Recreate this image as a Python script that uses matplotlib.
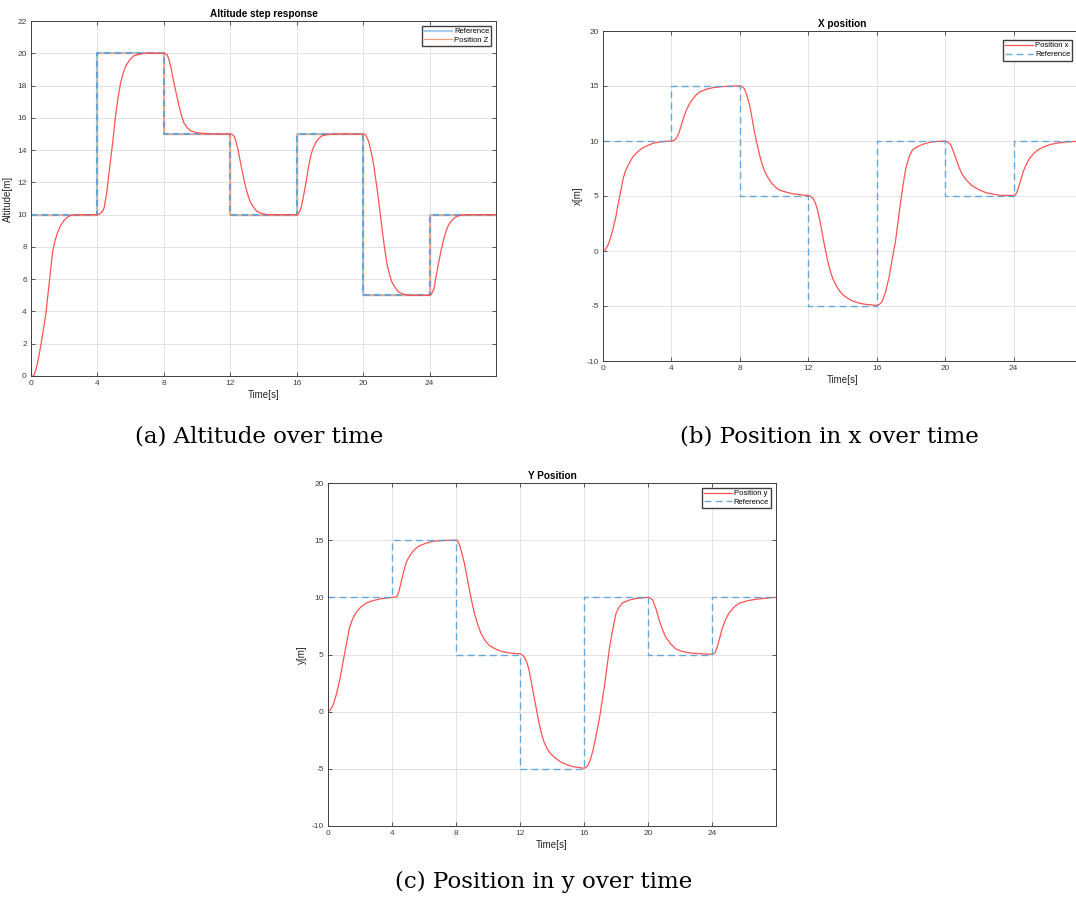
import numpy as np
import matplotlib.pyplot as plt

# reference set-points (step changes every 4 s)
ref_t = [0, 4, 8, 12, 16, 20, 24, 28]
z_ref = [10, 20, 15, 10, 15, 5, 10, 10]
x_ref = [10, 15, 5, -5, 10, 5, 10, 10]
y_ref = [10, 15, 5, -5, 10, 5, 10, 10]

# altitude response
z_t = [0, 0.16, 0.3, 0.45, 0.6, 0.75, 0.9, 1.1, 1.3, 1.45, 1.6, 1.8, 2.0, 2.2, 2.4, 3.0, 4.0,
       4.1, 4.2, 4.3, 4.4, 4.55, 4.7, 4.9, 5.1, 5.25, 5.4, 5.55, 5.7, 5.95, 6.2, 6.8, 8.0,
       8.1, 8.2, 8.3, 8.45, 8.6, 8.75, 8.9, 9.05, 9.2, 9.4, 9.6, 9.9, 10.2, 11.0, 12.0,
       12.1, 12.2, 12.3, 12.45, 12.6, 12.75, 12.9, 13.05, 13.2, 13.4, 13.6, 13.9, 14.2, 16.0,
       16.1, 16.26, 16.4, 16.56, 16.7, 16.86, 17.0, 17.16, 17.35, 17.56, 17.9, 18.4, 20.0,
       20.1, 20.2, 20.34, 20.5, 20.64, 20.84, 21.04, 21.24, 21.44, 21.6, 21.74, 21.95, 22.14, 22.4, 22.74, 24.0,
       24.1, 24.26, 24.4, 24.56, 24.7, 24.86, 25.0, 25.16, 25.35, 25.56, 25.8, 26.16, 28.0]
z_v = [0, 0, 0.4, 1.1, 1.96, 2.9, 3.9, 5.8, 7.7, 8.4, 8.9, 9.35, 9.65, 9.85, 9.96, 10.0, 10.0,
       10.02, 10.1, 10.2, 10.4, 11.3, 12.6, 14.3, 16.2, 17.3, 18.2, 18.75, 19.2, 19.6, 19.85, 20.0, 20.0,
       19.98, 19.9, 19.65, 19.0, 18.2, 17.5, 16.8, 16.2, 15.7, 15.4, 15.2, 15.1, 15.05, 15.0, 15.0,
       14.98, 14.9, 14.7, 14.1, 13.3, 12.55, 11.8, 11.25, 10.8, 10.45, 10.2, 10.07, 10.0, 10.0,
       10.05, 10.4, 11.1, 12.0, 12.9, 13.7, 14.15, 14.5, 14.75, 14.9, 14.97, 15.0, 15.0,
       14.98, 14.85, 14.5, 13.8, 13.05, 11.6, 9.96, 8.3, 6.9, 6.25, 5.8, 5.45, 5.2, 5.08, 5.0, 5.0,
       5.05, 5.4, 6.2, 7.1, 7.8, 8.5, 9.0, 9.4, 9.65, 9.85, 9.95, 10.0, 10.0]

# x position response
x_t = [0, 0.15, 0.3, 0.45, 0.6, 0.75, 0.88, 1.03, 1.18, 1.32, 1.47, 1.76, 2.05, 2.34, 2.93, 3.5, 4.0,
       4.15, 4.29, 4.45, 4.58, 4.72, 4.87, 5.06, 5.26, 5.45, 5.65, 6.0, 6.43, 7.0, 7.6, 8.0,
       8.1, 8.27, 8.42, 8.57, 8.71, 8.85, 9.0, 9.15, 9.3, 9.45, 9.65, 9.84, 10.05, 10.3, 10.7, 11.1, 11.6, 12.0,
       12.1, 12.27, 12.42, 12.56, 12.7, 12.85, 13.0, 13.15, 13.3, 13.43, 13.61, 13.82, 14.0, 14.3, 14.6, 15.0, 15.36, 16.0,
       16.1, 16.2, 16.33, 16.52, 16.72, 16.9, 17.1, 17.25, 17.4, 17.55, 17.7, 17.9, 18.1, 18.4, 18.7, 19.1, 19.45, 20.0,
       20.1, 20.2, 20.33, 20.47, 20.62, 20.8, 21.0, 21.3, 21.6, 22.0, 22.4, 22.85, 23.3, 24.0,
       24.1, 24.18, 24.27, 24.42, 24.56, 24.75, 24.95, 25.2, 25.44, 25.8, 26.2, 26.6, 27.0, 28.0]
x_v = [0, 0.15, 0.57, 1.25, 2.1, 3.1, 4.2, 5.4, 6.6, 7.3, 7.8, 8.6, 9.05, 9.4, 9.8, 9.95, 10.0,
       10.05, 10.25, 10.8, 11.45, 12.15, 12.8, 13.4, 13.85, 14.2, 14.45, 14.68, 14.85, 14.95, 15.0, 15.0,
       14.98, 14.75, 14.1, 13.25, 12.1, 10.85, 9.75, 8.75, 7.9, 7.25, 6.65, 6.2, 5.85, 5.55, 5.35, 5.2, 5.1, 5.05,
       5.0, 4.8, 4.35, 3.6, 2.6, 1.3, 0.1, -1.0, -1.9, -2.5, -3.1, -3.6, -3.95, -4.3, -4.55, -4.75, -4.85, -4.95,
       -4.9, -4.8, -4.55, -3.7, -2.4, -0.8, 0.9, 2.7, 4.5, 6.1, 7.5, 8.6, 9.2, 9.5, 9.7, 9.88, 9.95, 10.0,
       9.95, 9.85, 9.65, 9.1, 8.45, 7.65, 6.95, 6.35, 5.9, 5.55, 5.3, 5.15, 5.05, 5.05,
       5.1, 5.3, 5.7, 6.45, 7.2, 7.9, 8.45, 8.9, 9.2, 9.5, 9.7, 9.82, 9.9, 10.0]

# y position response
y_t = [0, 0.15, 0.31, 0.52, 0.73, 0.88, 1.04, 1.2, 1.35, 1.55, 1.77, 2.05, 2.39, 2.8, 3.2, 4.0,
       4.15, 4.3, 4.45, 4.6, 4.75, 4.9, 5.1, 5.3, 5.5, 5.7, 6.1, 6.55, 7.3, 8.0,
       8.1, 8.21, 8.36, 8.52, 8.68, 8.84, 9.0, 9.15, 9.35, 9.56, 9.8, 10.08, 10.5, 10.91, 11.4, 12.0,
       12.1, 12.26, 12.42, 12.57, 12.72, 12.88, 13.04, 13.2, 13.35, 13.5, 13.7, 13.93, 14.2, 14.55, 14.9, 15.28, 16.0,
       16.1, 16.25, 16.4, 16.56, 16.77, 16.98, 17.14, 17.3, 17.45, 17.6, 17.8, 18.0, 18.2, 18.4, 18.8, 19.23, 20.0,
       20.1, 20.29, 20.5, 20.7, 20.9, 21.1, 21.4, 21.73, 22.1, 22.56, 23.2, 23.8,
       24.0, 24.2, 24.4, 24.6, 24.82, 25.05, 25.35, 25.67, 26.2, 26.7, 27.3, 28.0]
y_v = [0, 0.15, 0.55, 1.5, 2.75, 3.9, 5.1, 6.3, 7.4, 8.15, 8.7, 9.15, 9.5, 9.7, 9.85, 10.0,
       10.0, 10.06, 10.6, 11.5, 12.35, 13.1, 13.6, 14.0, 14.28, 14.5, 14.72, 14.9, 14.98, 15.0,
       14.95, 14.6, 13.9, 13.0, 11.85, 10.65, 9.55, 8.6, 7.65, 6.85, 6.25, 5.8, 5.45, 5.25, 5.12, 5.05,
       5.0, 4.8, 4.35, 3.6, 2.5, 1.3, 0.1, -1.05, -1.95, -2.65, -3.25, -3.7, -4.05, -4.4, -4.62, -4.8, -4.95,
       -4.9, -4.7, -4.2, -3.4, -2.0, -0.47, 1.0, 2.45, 4.05, 5.65, 7.2, 8.6, 9.15, 9.5, 9.75, 9.9, 10.0,
       9.97, 9.77, 9.0, 8.0, 7.2, 6.55, 5.95, 5.5, 5.28, 5.15, 5.07, 5.03,
       5.02, 5.15, 6.0, 7.1, 7.95, 8.6, 9.1, 9.47, 9.7, 9.82, 9.92, 10.0]

ref_blue = '#4f9dd8'
pos_red = '#ff5252'
txt_col = '#262626'

plt.rcParams['font.family'] = 'Liberation Sans'
plt.rcParams['axes.unicode_minus'] = False

fig = plt.figure(figsize=(10.76, 9.07), dpi=100)


def style_axes(ax, ylim, yticks, title, ylabel):
    ax.set_xlim(0, 28)
    ax.set_ylim(*ylim)
    ax.set_xticks([0, 4, 8, 12, 16, 20, 24])
    ax.set_yticks(yticks)
    ax.grid(True, color='#e3e3e3', lw=0.7)
    ax.set_axisbelow(True)
    ax.tick_params(direction='in', length=3, width=0.6, labelsize=6,
                   colors='#404040', labelcolor='#404040', top=True, right=True, pad=3)
    for sp in ax.spines.values():
        sp.set_color('#404040')
        sp.set_linewidth(0.7)
    ax.set_title(title, fontsize=7.2, fontweight='bold', pad=3)
    ax.set_xlabel('Time[s]', fontsize=7, color=txt_col, labelpad=2)
    ax.set_ylabel(ylabel, fontsize=7, color=txt_col, labelpad=3)


leg_kw = dict(loc='upper right', fontsize=5.5, fancybox=False, edgecolor='#404040',
              framealpha=1, borderpad=0.3, handlelength=3.6, handletextpad=0.3,
              labelspacing=0.2)

# (a) altitude
ax1 = fig.add_axes([31 / 1076, 1 - 376 / 907, 465 / 1076, 355 / 907])
h_ref, = ax1.plot(ref_t, z_ref, drawstyle='steps-post', color='#a6cdea', lw=1.6)
h_pos, = ax1.plot(ref_t, z_ref, drawstyle='steps-post', color='#f0a07e', lw=0.9)
ax1.plot(ref_t, z_ref, drawstyle='steps-post', color=ref_blue, lw=1.1, dashes=(4, 3))
ax1.plot(z_t, z_v, color=pos_red, lw=0.9)
style_axes(ax1, (0, 22), range(0, 23, 2), 'Altitude step response', 'Altitude[m]')
ax1.legend([h_ref, h_pos], ['Reference', 'Position Z'], borderaxespad=0.6, **leg_kw)

# (b) x position
ax2 = fig.add_axes([603 / 1076, 1 - 361 / 907, 479 / 1076, 330 / 907])
ax2.plot(x_t, x_v, color=pos_red, lw=0.9, label='Position x')
ax2.plot(ref_t, x_ref, drawstyle='steps-post', color=ref_blue, lw=1.0, dashes=(5, 3),
         alpha=0.85, label='Reference')
style_axes(ax2, (-10, 20), range(-10, 21, 5), 'X position', 'x[m]')
ax2.legend(bbox_to_anchor=(0.988, 0.985), **leg_kw)

# (c) y position
ax3 = fig.add_axes([328 / 1076, 1 - 826 / 907, 448 / 1076, 343 / 907])
ax3.plot(y_t, y_v, color=pos_red, lw=0.9, label='Position y')
ax3.plot(ref_t, y_ref, drawstyle='steps-post', color=ref_blue, lw=1.0, dashes=(5, 3),
         alpha=0.85, label='Reference')
style_axes(ax3, (-10, 20), range(-10, 21, 5), 'Y Position', 'y[m]')
ax3.legend(borderaxespad=0.6, **leg_kw)

# sub-figure captions
cap = dict(fontsize=16.5, family='DejaVu Serif', ha='center', va='center', color='black')
fig.text(259 / 1076, 1 - 436 / 907, '(a) Altitude over time', **cap)
fig.text(829 / 1076, 1 - 436 / 907, '(b) Position in x over time', **cap)
fig.text(544 / 1076, 1 - 882 / 907, '(c) Position in y over time', **cap)

fig.savefig('out.png', dpi=100)
